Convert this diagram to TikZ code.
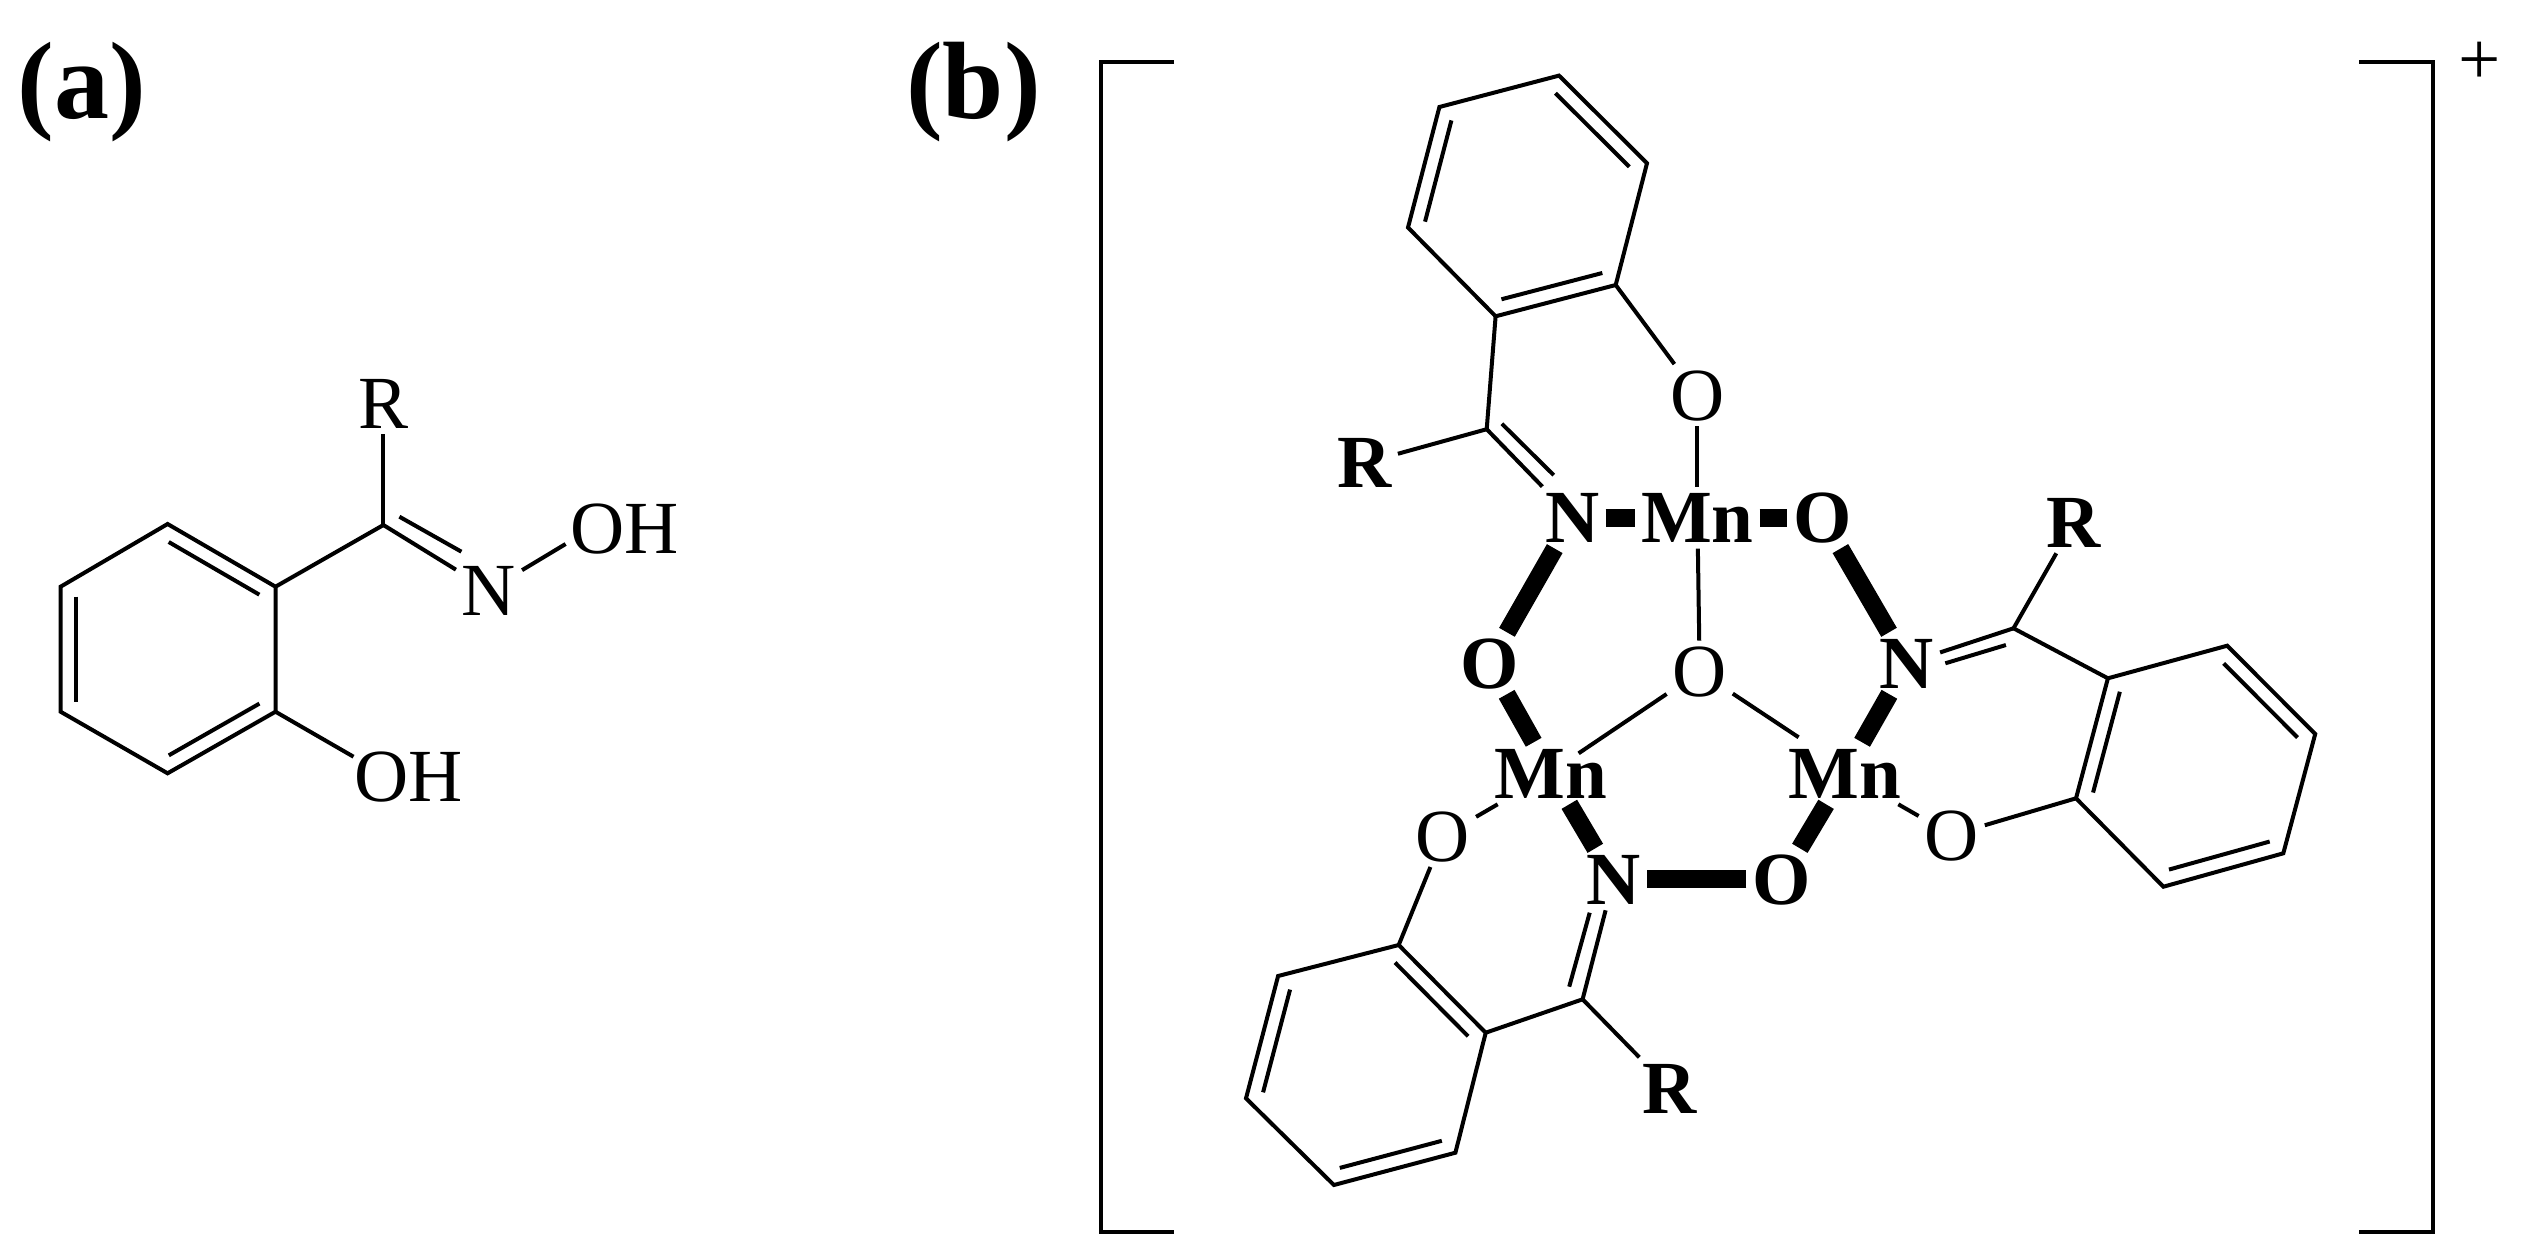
\documentclass[tikz,border=0pt]{standalone}
\usepackage{fontspec}
\setmainfont{Liberation Serif}
\usetikzlibrary{calc}

\newcommand{\inbond}[2]{\path ($(#1)!.08!(#2)!15pt!90:(#2)$) edge ($(#2)!.08!(#1)!15pt!-90:(#1)$);}

\begin{document}
\begin{tikzpicture}[x=1pt, y=-1pt, line width=4pt, a/.style={inner sep=6pt, outer sep=0pt, text height=50pt, text depth=0pt, font=\fontsize{75}{80}\selectfont}, h/.style={a, font=\fontsize{75}{80}\selectfont\bfseries}, p/.style={anchor=base, font=\fontsize{110}{120}\selectfont\bfseries}, s/.style={line width=18pt}]
	\useasboundingbox (0,0) rectangle (2527,1258);

	\node[p] (label_a) at (82,118) {(a)};
	\node[p] (label_b) at (973.5,118) {(b)};

	\coordinate (A1) at (167.6,524);
	\coordinate (A2) at (275.5,586.7);
	\coordinate (A3) at (275.5,711.7);
	\coordinate (A4) at (167.6,773.3);
	\coordinate (A5) at (60.6,711.7);
	\coordinate (A6) at (60.6,586.7);
	\coordinate (C_a) at (383.4,525);
	\node[a] (R_a) at (383.4,403) {R};
	\node[a] (N_a) at (489,590) {N};
	\node[a] (OH_a) at (624.4,528) {OH};
	\node[a] (OH_r) at (408.6,776.7) {OH};
	\coordinate (OH_a_end) at (565.6,544);
	\coordinate (OH_r_end) at (353.5,756.7);
	\coordinate (N_a_in) at (399.4,516.7);
	\coordinate (N_a_out) at (461.4,551.7);

	\draw (A1) -- (A2) -- (A3) -- (A4) -- (A5) -- (A6) -- cycle;
	\inbond{A2}{A1}
	\inbond{A6}{A5}
	\inbond{A4}{A3}
	\path (A2) edge (C_a);
	\path (C_a) edge (R_a);
	\path (C_a) edge (N_a);
	\path (N_a_in) edge (N_a_out);
	\path (N_a) edge (OH_a_end);
	\path (A3) edge (OH_r_end);

	\draw (1174,62) -- (1100.7,62) -- (1100.7,1231.7) -- (1174,1231.7);
	\draw (2359,62) -- (2433,62) -- (2433,1231.7) -- (2359,1231.7);
	\node[a] (charge) at (2480,59) {+};

	\coordinate (T1) at (1559,75.6);
	\coordinate (T2) at (1647,163.2);
	\coordinate (T3) at (1615.7,285);
	\coordinate (T4) at (1495.6,316.3);
	\coordinate (T5) at (1408,227.5);
	\coordinate (T6) at (1439.4,107);
	\coordinate (C_t) at (1486.7,429.2);
	\coordinate (N_t_in) at (1501.9,423.8);
	\coordinate (N_t_out) at (1553.7,475.1);

	\coordinate (Q1) at (2107.9,678.3);
	\coordinate (Q2) at (2227.2,645.7);
	\coordinate (Q3) at (2315.2,734);
	\coordinate (Q4) at (2283.3,853.3);
	\coordinate (Q5) at (2163.4,886.7);
	\coordinate (Q6) at (2076,798.3);
	\coordinate (C_r) at (2013.5,628.3);
	\coordinate (N_r_in) at (2005.9,645);
	\coordinate (N_r_out) at (1945.3,663.3);

	\coordinate (U1) at (1398.7,945);
	\coordinate (U2) at (1485.7,1032.7);
	\coordinate (U3) at (1455.4,1152.7);
	\coordinate (U4) at (1333.9,1185);
	\coordinate (U5) at (1246,1098.3);
	\coordinate (U6) at (1278.1,976);
	\coordinate (C_b) at (1582.6,999.3);
	\coordinate (N_b_in) at (1569.2,986.7);
	\coordinate (N_b_out) at (1589.7,912.7);

	\node[h] (Mn_t) at (1697.4,517.6) {Mn};
	\node[h] (Mn_l) at (1551,773.3) {Mn};
	\node[h] (Mn_r) at (1844.5,773.3) {Mn};
	\node[h] (N_t) at (1572.4,517.6) {N};
	\node[h] (N_r) at (1907,663.3) {N};
	\node[h] (N_b) at (1613.6,879.3) {N};
	\node[h] (O_tr) at (1822.4,517.6) {O};
	\node[h] (O_l) at (1489.3,663.3) {O};
	\node[h] (O_b) at (1781.4,879.3) {O};
	\node[a] (O_t) at (1697.4,395.1) {O};
	\node[a] (O_c) at (1699.7,671.7) {O};
	\node[a] (O_rr) at (1951.7,835) {O};
	\node[a] (O_ll) at (1443,836) {O};
	\node[h] (R_t) at (1364.8,462.9) {R};
	\node[h] (R_r) at (2074,522.3) {R};
	\node[h] (R_b) at (1669.6,1088.3) {R};
	\coordinate (Mn_l_end) at (1578.6,753.3);
	\coordinate (Mn_r_end) at (1798.6,737.3);

	\draw (T1) -- (T2) -- (T3) -- (T4) -- (T5) -- (T6) -- cycle;
	\inbond{T2}{T1}
	\inbond{T4}{T3}
	\inbond{T6}{T5}
	\draw (Q1) -- (Q2) -- (Q3) -- (Q4) -- (Q5) -- (Q6) -- cycle;
	\inbond{Q3}{Q2}
	\inbond{Q5}{Q4}
	\inbond{Q1}{Q6}
	\draw (U1) -- (U2) -- (U3) -- (U4) -- (U5) -- (U6) -- cycle;
	\inbond{U2}{U1}
	\inbond{U4}{U3}
	\inbond{U6}{U5}

	\path (T3) edge (O_t);
	\path (T4) edge (C_t);
	\path (C_t) edge (R_t);
	\path (C_t) edge (N_t);
	\path (N_t_in) edge (N_t_out);
	\path (O_t) edge (Mn_t);
	\path (Mn_t) edge (O_c);
	\path (O_c) edge (Mn_l_end);
	\path (O_c) edge (Mn_r_end);
	\path[s] (N_t) edge (Mn_t);
	\path[s] (Mn_t) edge (O_tr);
	\path[s] (N_t) edge (O_l);
	\path[s] (O_l) edge (Mn_l);
	\path[s] (O_tr) edge (N_r);
	\path[s] (N_r) edge (Mn_r);
	\path[s] (Mn_r) edge (O_b);
	\path[s] (O_b) edge (N_b);
	\path[s] (N_b) edge (Mn_l);

	\path (N_r) edge (C_r);
	\path (N_r_in) edge (N_r_out);
	\path (C_r) edge (R_r);
	\path (C_r) edge (Q1);
	\path (Mn_r) edge (O_rr);
	\path (O_rr) edge (Q6);

	\path (Mn_l) edge (O_ll);
	\path (O_ll) edge (U1);
	\path (N_b) edge (C_b);
	\path (N_b_in) edge (N_b_out);
	\path (C_b) edge (U2);
	\path (C_b) edge (R_b);
\end{tikzpicture}
\end{document}
